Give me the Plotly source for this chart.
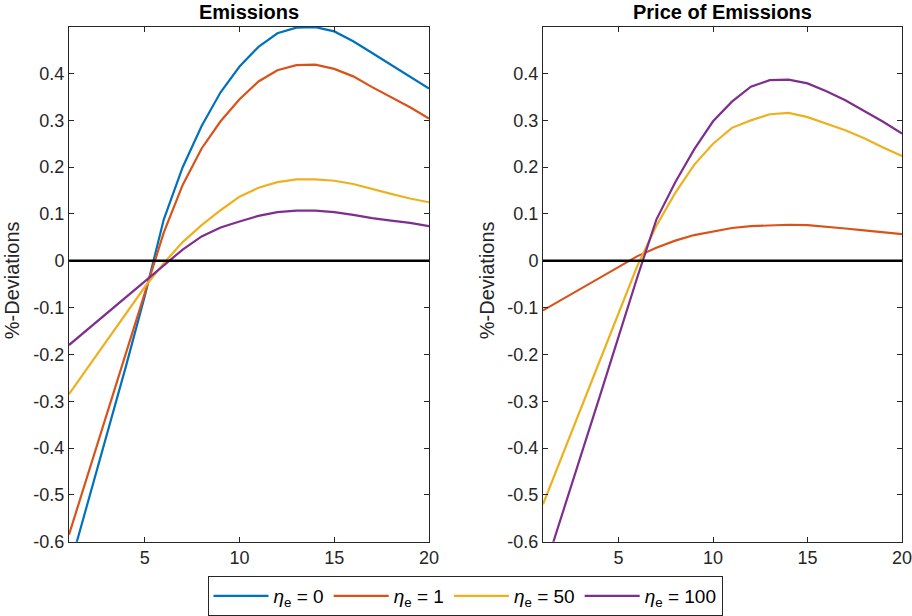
import plotly.graph_objects as go

periods = list(range(1, 21))

# Emissions (left panel)
emis_eta0 = [-0.66, -0.516, -0.371, -0.226, -0.075, 0.088, 0.200, 0.288, 0.360, 0.415,
             0.457, 0.486, 0.498, 0.499, 0.490, 0.469, 0.444, 0.419, 0.394, 0.368]
emis_eta1 = [-0.585, -0.455, -0.325, -0.195, -0.068, 0.060, 0.162, 0.240, 0.298, 0.345,
             0.383, 0.407, 0.418, 0.419, 0.410, 0.394, 0.371, 0.349, 0.328, 0.304]
emis_eta50 = [-0.285, -0.228, -0.170, -0.113, -0.056, -0.005, 0.040, 0.076, 0.108, 0.137,
              0.156, 0.168, 0.174, 0.174, 0.171, 0.164, 0.153, 0.143, 0.133, 0.125]
emis_eta100 = [-0.180, -0.146, -0.112, -0.078, -0.046, -0.012, 0.024, 0.052, 0.071, 0.084,
               0.096, 0.104, 0.107, 0.107, 0.104, 0.098, 0.091, 0.086, 0.081, 0.074]

# Price of emissions (right panel)
price_eta1 = [-0.106, -0.083, -0.060, -0.037, -0.013, 0.010, 0.028, 0.043, 0.055, 0.063,
              0.070, 0.074, 0.076, 0.077, 0.076, 0.073, 0.069, 0.065, 0.061, 0.057]
price_eta50 = [-0.520, -0.418, -0.316, -0.214, -0.112, -0.010, 0.075, 0.145, 0.205, 0.250,
               0.284, 0.300, 0.313, 0.316, 0.307, 0.293, 0.279, 0.262, 0.242, 0.224]
price_eta100 = [-0.670, -0.545, -0.418, -0.290, -0.162, -0.034, 0.088, 0.168, 0.238, 0.298,
                0.340, 0.372, 0.386, 0.387, 0.379, 0.362, 0.343, 0.320, 0.297, 0.272]

labels = ["<i>η</i><sub>e</sub> = 0", "<i>η</i><sub>e</sub> = 1",
          "<i>η</i><sub>e</sub> = 50", "<i>η</i><sub>e</sub> = 100"]
colors = ["#0072BD", "#D95319", "#EDB120", "#7E2F8E"]

yticks = [-0.6, -0.5, -0.4, -0.3, -0.2, -0.1, 0, 0.1, 0.2, 0.3, 0.4]
yticktext = ["-0.6", "-0.5", "-0.4", "-0.3", "-0.2", "-0.1", "0", "0.1", "0.2", "0.3", "0.4"]
xticks = [5, 10, 15, 20]

FONT = "Liberation Sans, Arial, Helvetica, sans-serif"
AX = "#262626"

fig = go.Figure()
left = [emis_eta0, emis_eta1, emis_eta50, emis_eta100]
for i, ys in enumerate(left):
    fig.add_trace(go.Scatter(x=periods, y=ys, mode="lines", name=labels[i],
                             line=dict(color=colors[i], width=2.2),
                             xaxis="x", yaxis="y", showlegend=True))
right = [(1, price_eta1), (2, price_eta50), (3, price_eta100)]
for i, ys in right:
    fig.add_trace(go.Scatter(x=periods, y=ys, mode="lines", name=labels[i],
                             line=dict(color=colors[i], width=2.2),
                             xaxis="x2", yaxis="y2", showlegend=False))

W, H = 912, 616
def fx(px):
    return px / W
def fy(py):
    return 1 - py / H

axcommon = dict(showline=True, linecolor=AX, linewidth=1, mirror="ticks",
                ticks="inside", ticklen=5, tickcolor=AX, showgrid=False,
                zeroline=False, automargin=False, ticklabeloverflow="allow",
                tickfont=dict(family=FONT, size=18, color=AX))

fig.update_layout(
    width=W, height=H,
    margin=dict(l=0, r=0, t=0, b=0),
    paper_bgcolor="white", plot_bgcolor="white",
    font=dict(family=FONT, color=AX),
    xaxis=dict(domain=[fx(69), fx(429)], range=[1, 20], tickvals=xticks, anchor="y", **axcommon),
    yaxis=dict(domain=[fy(547), fy(27)], range=[-0.6, 0.5], tickvals=yticks,
               ticktext=yticktext, anchor="x", **axcommon),
    xaxis2=dict(domain=[fx(543), fx(902)], range=[1, 20], tickvals=xticks, anchor="y2", **axcommon),
    yaxis2=dict(domain=[fy(547), fy(27)], range=[-0.6, 0.5], tickvals=yticks,
                ticktext=yticktext, anchor="x2", **axcommon),
    legend=dict(orientation="h", x=fx(465), xanchor="center", y=fy(582), yanchor="top",
                bordercolor=AX, borderwidth=1, bgcolor="white",
                font=dict(family=FONT, size=19, color="#000000"),
                itemwidth=55, tracegroupgap=0),
    shapes=[
        dict(type="line", xref="x domain", yref="y", x0=0, x1=1, y0=0, y1=0,
             line=dict(color="black", width=2.5), layer="above"),
        dict(type="line", xref="x2 domain", yref="y2", x0=0, x1=1, y0=0, y1=0,
             line=dict(color="black", width=2.5), layer="above"),
    ],
    annotations=[
        dict(text="<b>Emissions</b>", x=fx(249), y=fy(12), xref="paper", yref="paper",
             xanchor="center", yanchor="middle",
             showarrow=False, font=dict(family=FONT, size=20, color="#000000")),
        dict(text="<b>Price of Emissions</b>", x=fx(722), y=fy(12), xref="paper", yref="paper",
             xanchor="center", yanchor="middle",
             showarrow=False, font=dict(family=FONT, size=20, color="#000000")),
        dict(text="%-Deviations", x=fx(12), y=fy(283), xref="paper", yref="paper",
             xanchor="center", yanchor="middle",
             textangle=-90, showarrow=False, font=dict(family=FONT, size=20, color=AX)),
        dict(text="%-Deviations", x=fx(487), y=fy(283), xref="paper", yref="paper",
             xanchor="center", yanchor="middle",
             textangle=-90, showarrow=False, font=dict(family=FONT, size=20, color=AX)),
    ],
)

fig.write_html("out.html")
